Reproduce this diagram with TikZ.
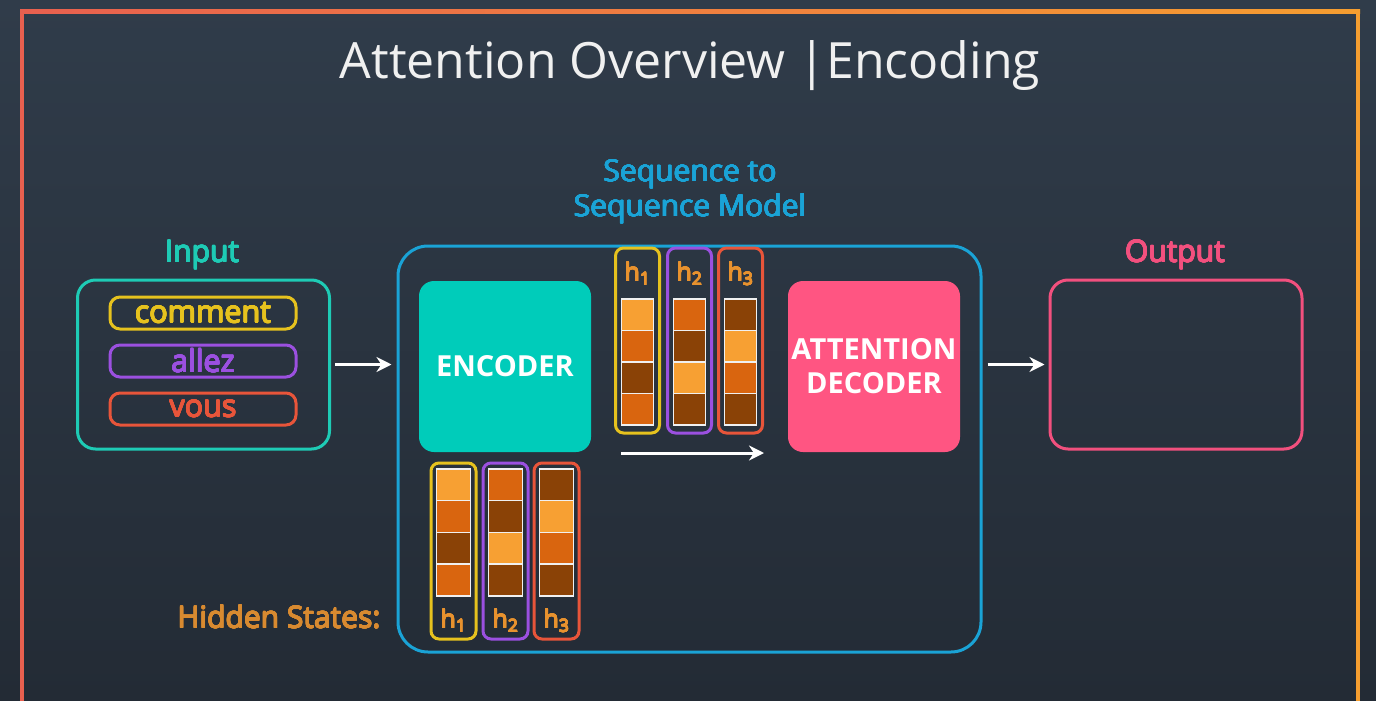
\documentclass[tikz,border=0pt]{standalone}
\usepackage{fontspec}
\setmainfont{Open Sans}
\usepackage{contour}
\contourlength{0.45pt}
\contournumber{16}
\usetikzlibrary{arrows.meta}
\definecolor{bgtop}{HTML}{303C4A}
\definecolor{bgbot}{HTML}{232B35}
\definecolor{frl}{HTML}{E8604F}
\definecolor{frr}{HTML}{F59E30}
\definecolor{cteal}{HTML}{1ECBB5}
\definecolor{cseq}{HTML}{1AA3D6}
\definecolor{cpink}{HTML}{F2507E}
\definecolor{cenc}{HTML}{00CCBA}
\definecolor{cdec}{HTML}{FF5582}
\definecolor{hy}{HTML}{E6C21E}
\definecolor{hp}{HTML}{9B50E0}
\definecolor{hr}{HTML}{E8553A}
\definecolor{hlab}{HTML}{E8922E}
\definecolor{hid}{HTML}{D88A30}
\definecolor{L}{HTML}{F7A033}
\definecolor{M}{HTML}{D9650F}
\definecolor{D}{HTML}{8A4206}
\newcommand\thk[2]{\contour{#1}{\textcolor{#1}{#2}}}
\tikzset{
  wordbox/.style={draw=#1, text=#1, line width=3pt, rounded corners=10pt,
    minimum width=186pt, minimum height=32pt, inner sep=0pt,
    font=\fontsize{30.5}{32}\selectfont},
  bigbox/.style={draw=#1, line width=3pt, rounded corners=18pt,
    minimum width=252pt, minimum height=169pt},
  block/.style={fill=#1, rounded corners=15pt, minimum width=172pt,
    minimum height=171pt, text=white, align=center,
    font=\bfseries\fontsize{29}{36}\selectfont},
  vbox/.style={draw=#1, line width=3pt, rounded corners=8pt},
  cell/.style={fill=#1, draw=white!88!gray, line width=1.5pt, inner sep=0pt},
  hlbl/.style={text=hlab, font=\fontsize{25}{26}\selectfont, inner sep=0pt},
  arr/.style={draw=white, line width=3pt, -{Stealth[length=15pt,width=15pt]}},
  lbl/.style={font=\fontsize{30}{34}\selectfont, anchor=base}
}
\begin{document}
\begin{tikzpicture}[x=1pt,y=-1pt]
\useasboundingbox (0,0) rectangle (1376,701);
\shade[top color=bgtop,bottom color=bgbot] (0,0) rectangle (1376,701);
% frame
\shade[left color=frl,right color=frr] (20,10) rectangle (1360,14);
\fill[frl] (20,10) rectangle (24,701);
\fill[frr] (1356,10) rectangle (1360,701);
% title
\node[text=white!94!black, font=\fontsize{50}{60}\selectfont, anchor=base] (title) at (690,78) {Attention Overview |Encoding};
\node[text=cseq, align=center, font=\fontsize{30}{35}\selectfont] (seqlbl) at (690,192) {\thk{cseq}{Sequence to}\\\thk{cseq}{Sequence Model}};
\node[lbl] (inlbl) at (202,262) {\thk{cteal}{Input}};
\node[lbl] (outlbl) at (1175,262) {\thk{cpink}{Output}};
% input
\node[bigbox=cteal] (inbox) at (203.5,364.5) {};
\node[wordbox=hy] (w1) at (203,313) {\thk{hy}{comment}};
\node[wordbox=hp] (w2) at (203,361) {\thk{hp}{allez}};
\node[wordbox=hr] (w3) at (203,409) {\thk{hr}{vous}};
% seq model
\node[draw=cseq, line width=3pt, rounded corners=30pt, minimum width=583pt, minimum height=406pt] (seq) at (689.5,449) {};
\node[block=cenc] (enc) at (505,366.5) {ENCODER};
\node[block=cdec] (dec) at (874,366.5) {ATTENTION\\[-2pt]DECODER};
% output
\node[bigbox=cpink] (outbox) at (1176,364.5) {};
% arrows
\draw[arr] ([xshift=4pt]inbox.east) -- ([xshift=-5pt]seq.west |- inbox.east);
\draw[arr] ([xshift=5pt]seq.east |- outbox.west) -- ([xshift=-4pt]outbox.west);
% top vectors
\foreach \n/\x/\c/\s/\cols in {t1/637.5/hy/1/{L,M,D,M}, t2/689.5/hp/2/{M,D,L,D}, t3/740.5/hr/3/{D,L,M,D}}{
  \node[vbox=\c, minimum width=44pt, minimum height=185pt] (\n) at (\x,340.5) {};
  \node[hlbl] (\n l) at (\x,274) {\thk{hlab}{h\textsubscript{\s}}};
  \foreach \col [count=\i] in \cols {
    \node[cell=\col, minimum width=32pt, minimum height=31.5pt] (\n c\i) at (\x,{283+31.5*\i}) {};
  }
}
\coordinate (ma) at (621,453);
\coordinate (mb) at (764,453);
\draw[arr] (ma) -- (mb);
% bottom vectors
\foreach \n/\x/\c/\s/\cols in {b1/453.5/hy/1/{L,M,D,M}, b2/505.5/hp/2/{M,D,L,D}, b3/556.5/hr/3/{D,L,M,D}}{
  \node[vbox=\c, minimum width=45pt, minimum height=176pt] (\n) at (\x,551) {};
  \node[hlbl] (\n l) at (\x,621) {\thk{hlab}{h\textsubscript{\s}}};
  \foreach \col [count=\i] in \cols {
    \node[cell=\col, minimum width=34pt, minimum height=31.75pt] (\n c\i) at (\x,{453.1+31.75*\i}) {};
  }
}
\node[lbl, anchor=base east] (hs) at (384,628) {\thk{hid}{Hidden States:}};
\end{tikzpicture}
\end{document}
